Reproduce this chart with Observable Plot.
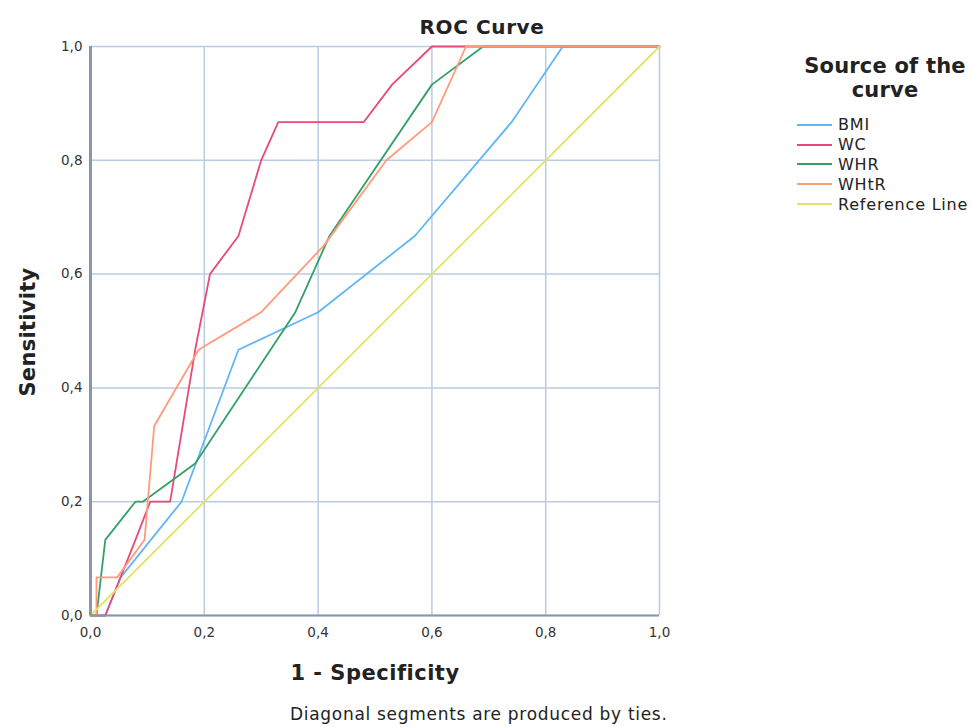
<!DOCTYPE html>
<html>
<head>
<meta charset="utf-8">
<script src="https://cdn.jsdelivr.net/npm/d3@7"></script>
<script src="https://cdn.jsdelivr.net/npm/@observablehq/plot@0.6"></script>
<style>
  body { margin: 0; background: #fff; }
  #wrap { position: relative; width: 973px; height: 727px; font-family: "DejaVu Sans", sans-serif; color: #222; }
  #wrap svg { position: absolute; left: 0; top: 0; }
  .abs { position: absolute; white-space: nowrap; }
  #title { left: 0; width: 964px; top: 15px; text-align: center; font-weight: bold; font-size: 20px; letter-spacing: 0.6px; }
  #ylab { left: 28px; top: 332px; transform: translate(-50%, -50%) rotate(-90deg); font-weight: bold; font-size: 21px; letter-spacing: 0.3px; }
  #xlab { left: 375px; top: 673px; transform: translate(-50%, -50%); font-weight: bold; font-size: 21px; letter-spacing: 0.5px; }
  #caption { left: 290px; top: 704px; font-size: 17px; letter-spacing: 0.7px; }
  #legend { left: 790px; top: 54px; width: 190px; }
  #legtitle { text-align: center; font-weight: bold; font-size: 21px; line-height: 24px; margin-bottom: 13px; width: 190px; letter-spacing: 0.2px; }
  .item { display: flex; align-items: center; height: 19.8px; font-size: 16px; letter-spacing: 0.8px; }
  .sw { width: 35px; height: 0; border-top: 2px solid; margin-left: 7px; margin-right: 6px; }
</style>
</head>
<body>
<div id="wrap"></div>
<script>
// Series names and colours
const seriesNames = ["BMI", "WC", "WHR", "WHtR", "Reference Line"];
const seriesColors = ["#62b6f5", "#e84a78", "#33a067", "#ff9b7c", "#e3e36a"];

// ROC points (1 - Specificity, Sensitivity)
const bmiX  = [0, 0.026, 0.053, 0.16, 0.26, 0.40, 0.57, 0.74, 0.83, 1];
const bmiY  = [0, 0, 0.067, 0.2, 0.467, 0.533, 0.667, 0.867, 1, 1];

const wcX   = [0, 0.026, 0.079, 0.105, 0.14, 0.184, 0.21, 0.26, 0.30, 0.33, 0.48, 0.53, 0.60, 1];
const wcY   = [0, 0, 0.133, 0.2, 0.2, 0.467, 0.6, 0.667, 0.8, 0.867, 0.867, 0.933, 1, 1];

const whrX  = [0, 0.0105, 0.026, 0.079, 0.092, 0.184, 0.36, 0.42, 0.6, 0.69, 1];
const whrY  = [0, 0, 0.133, 0.2, 0.2, 0.267, 0.533, 0.667, 0.933, 1, 1];

const whtrX = [0, 0.0105, 0.0105, 0.047, 0.095, 0.112, 0.19, 0.30, 0.41, 0.52, 0.60, 0.66, 1];
const whtrY = [0, 0, 0.067, 0.067, 0.133, 0.333, 0.467, 0.533, 0.65, 0.8, 0.867, 1, 1];

const refX  = [0, 1];
const refY  = [0, 1];

const tickValues = [0, 0.2, 0.4, 0.6, 0.8, 1.0];
const fmt = d => d.toFixed(1).replace(".", ",");

const seriesXY = [[bmiX, bmiY], [wcX, wcY], [whrX, whrY], [whtrX, whtrY], [refX, refY]];
const rows = [];
seriesXY.forEach(([xs, ys], i) => xs.forEach((x, j) => rows.push({series: seriesNames[i], x, y: ys[j], order: j})));

const plot = Plot.plot({
  width: 973,
  height: 727,
  marginLeft: 90,
  marginRight: 314,
  marginTop: 46,
  marginBottom: 112,
  style: { fontFamily: "DejaVu Sans, sans-serif", fontSize: "13.5px", color: "#333", background: "transparent" },
  x: { domain: [0, 1], ticks: tickValues, tickFormat: fmt, tickSize: 0, tickPadding: 12, label: null },
  y: { domain: [0, 1], ticks: tickValues, tickFormat: fmt, tickSize: 0, tickPadding: 8, label: null },
  color: { domain: seriesNames, range: seriesColors },
  marks: [
    Plot.gridX(tickValues, { stroke: "#b9cce3", strokeOpacity: 1, strokeWidth: 1.5 }),
    Plot.gridY(tickValues, { stroke: "#b9cce3", strokeOpacity: 1, strokeWidth: 1.5 }),
    Plot.line(rows, { x: "x", y: "y", z: "series", stroke: "series", strokeWidth: 1.8, curve: "linear" }),
    Plot.ruleX([0], { stroke: "#8796ab", strokeWidth: 3 }),
    Plot.ruleY([0], { stroke: "#8796ab", strokeWidth: 2 })
  ]
});

const wrap = document.getElementById("wrap");
wrap.appendChild(plot);

function addDiv(id, text) {
  const d = document.createElement("div");
  d.id = id; d.className = "abs"; d.textContent = text;
  wrap.appendChild(d);
  return d;
}
addDiv("title", "ROC Curve");
addDiv("ylab", "Sensitivity");
addDiv("xlab", "1 - Specificity");
addDiv("caption", "Diagonal segments are produced by ties.");

const legend = document.createElement("div");
legend.id = "legend"; legend.className = "abs";
const lt = document.createElement("div");
lt.id = "legtitle"; lt.innerHTML = "Source of the<br>curve";
legend.appendChild(lt);
seriesNames.forEach((name, i) => {
  const it = document.createElement("div"); it.className = "item";
  const sw = document.createElement("span"); sw.className = "sw"; sw.style.borderTopColor = seriesColors[i];
  const tx = document.createElement("span"); tx.textContent = name;
  it.appendChild(sw); it.appendChild(tx);
  legend.appendChild(it);
});
wrap.appendChild(legend);
</script>
</body>
</html>
